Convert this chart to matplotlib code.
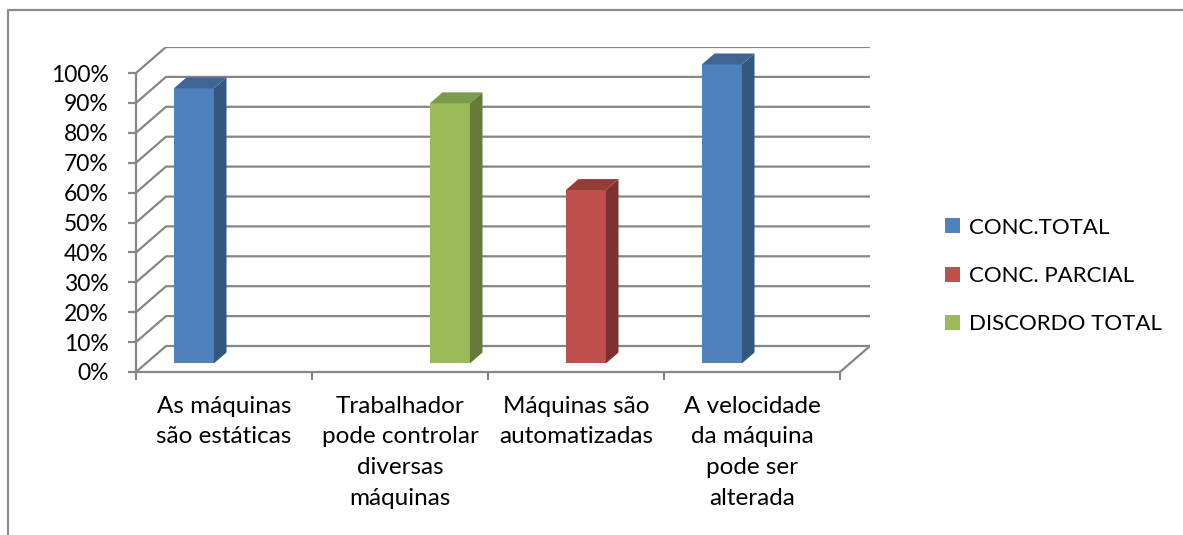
import matplotlib
matplotlib.use('Agg')
import matplotlib.pyplot as plt
from matplotlib.patches import Patch, Polygon
from matplotlib.lines import Line2D

# DATA
categories = ['As máquinas\nsão estáticas',
              'Trabalhador\npode controlar\ndiversas\nmáquinas',
              'Máquinas são\nautomatizadas',
              'A velocidade\nda máquina\npode ser\nalterada']
series_names = ['CONC.TOTAL', 'CONC. PARCIAL', 'DISCORDO TOTAL']
conc_total = [92, 0, 0, 100]
conc_parcial = [0, 0, 58, 0]
discordo_total = [0, 87, 0, 0]
y_ticks = [0, 10, 20, 30, 40, 50, 60, 70, 80, 90, 100]
y_tick_labels = [f'{v}%' for v in y_ticks]

# colours: front, side, top
face_cols = ['#4F81BD', '#C0504D', '#9BBB59']
side_cols = ['#35577F', '#7B3230', '#677A3A']
top_cols = ['#3F6593', '#943C3A', '#7A9A4C']
grid_col = '#868686'

plt.rcParams['font.family'] = ['Lato', 'DejaVu Sans']

W, H = 1183, 535
fig = plt.figure(figsize=(W / 100, H / 100), dpi=100)

# pixel layout of the plot box (front plane + depth)
px_left, px_right_front, px_depth_x = 136, 840, 30
px_bottom, px_top_front, px_depth_y = 372, 73, 26
n_cat = len(categories)
cat_px = (px_right_front - px_left) / n_cat
pct_px = (px_bottom - px_top_front) / 100
DX = px_depth_x / cat_px
DY = px_depth_y / pct_px

ax = fig.add_axes([px_left / W, (H - px_bottom) / H,
                   (px_right_front + px_depth_x - px_left) / W,
                   (px_bottom - px_top_front + px_depth_y) / H])
ax.set_xlim(0, n_cat + DX)
ax.set_ylim(0, 100 + DY)


def proj(x, y, d):
    return x + d * DX, y + d * DY


# back wall gridlines
lw = 1.6
for v in y_ticks:
    x0, y0 = proj(0, v, 0)
    x1, y1 = proj(0, v, 1)
    x2, y2 = proj(n_cat, v, 1)
    ax.plot([x0, x1, x2], [y0, y1, y2], color=grid_col, lw=lw, zorder=1,
            solid_capstyle='butt')
# floor right edge
xa, ya = proj(n_cat, 0, 0)
xb, yb = proj(n_cat, 0, 1)
ax.plot([xa, xb], [ya, yb], color=grid_col, lw=lw, zorder=1)

# bars
d0, d1 = 0.33, 0.75
slot = 40 / cat_px
all_series = [conc_total, conc_parcial, discordo_total]
for s, vals in enumerate(all_series):
    for i, v in enumerate(vals):
        if v <= 0:
            continue
        xc = i + 0.5 + (s - 1) * slot
        xl = xc - slot / 2
        xr = xc + slot / 2
        fx, fy = proj(xl, 0, d0)
        ax.bar(fx, v, width=slot, bottom=fy, align='edge',
               color=face_cols[s], edgecolor='none', zorder=3)
        side = [proj(xr, 0, d0), proj(xr, 0, d1), proj(xr, v, d1), proj(xr, v, d0)]
        ax.add_patch(Polygon(side, closed=True, facecolor=side_cols[s],
                             edgecolor='none', zorder=3))
        top = [proj(xl, v, d0), proj(xr, v, d0), proj(xr, v, d1), proj(xl, v, d1)]
        ax.add_patch(Polygon(top, closed=True, facecolor=top_cols[s],
                             edgecolor='none', zorder=3))

# axes styling
for sp in ['top', 'right']:
    ax.spines[sp].set_visible(False)
ax.spines['left'].set_bounds(0, 100)
ax.spines['bottom'].set_bounds(0, n_cat)
for sp in ['left', 'bottom']:
    ax.spines[sp].set_color(grid_col)
    ax.spines[sp].set_linewidth(lw)
ax.set_yticks(y_ticks)
ax.set_yticklabels(y_tick_labels, fontsize=16.5)
ax.tick_params(axis='y', length=5.8, width=lw, color=grid_col, pad=14)
ax.set_xticks(range(n_cat + 1))
ax.set_xticklabels([''] * (n_cat + 1))
ax.tick_params(axis='x', which='major', length=5.8, width=lw, color=grid_col)
ax.set_xticks([i + 0.5 for i in range(n_cat)], minor=True)
ax.set_xticklabels(categories, minor=True, fontsize=17.5, linespacing=1.58,
                   va='top')
ax.tick_params(axis='x', which='minor', length=0, pad=17)
ax.set_facecolor('none')

# legend
handles = [Patch(facecolor=c, edgecolor='none') for c in face_cols]
fig.legend(handles, series_names, loc='center left',
           bbox_to_anchor=(925 / W, 1 - 276 / H), frameon=False,
           fontsize=16, handlelength=0.68, handleheight=0.68,
           handletextpad=0.4, labelspacing=1.28)

# outer chart border (left and top)
fig.add_artist(Line2D([7.5 / W, 7.5 / W, 1], [0, 1 - 10 / H, 1 - 10 / H],
                      transform=fig.transFigure, color='#8C8C8C', lw=1.6))

fig.savefig('out.png', dpi=100, facecolor='white')
